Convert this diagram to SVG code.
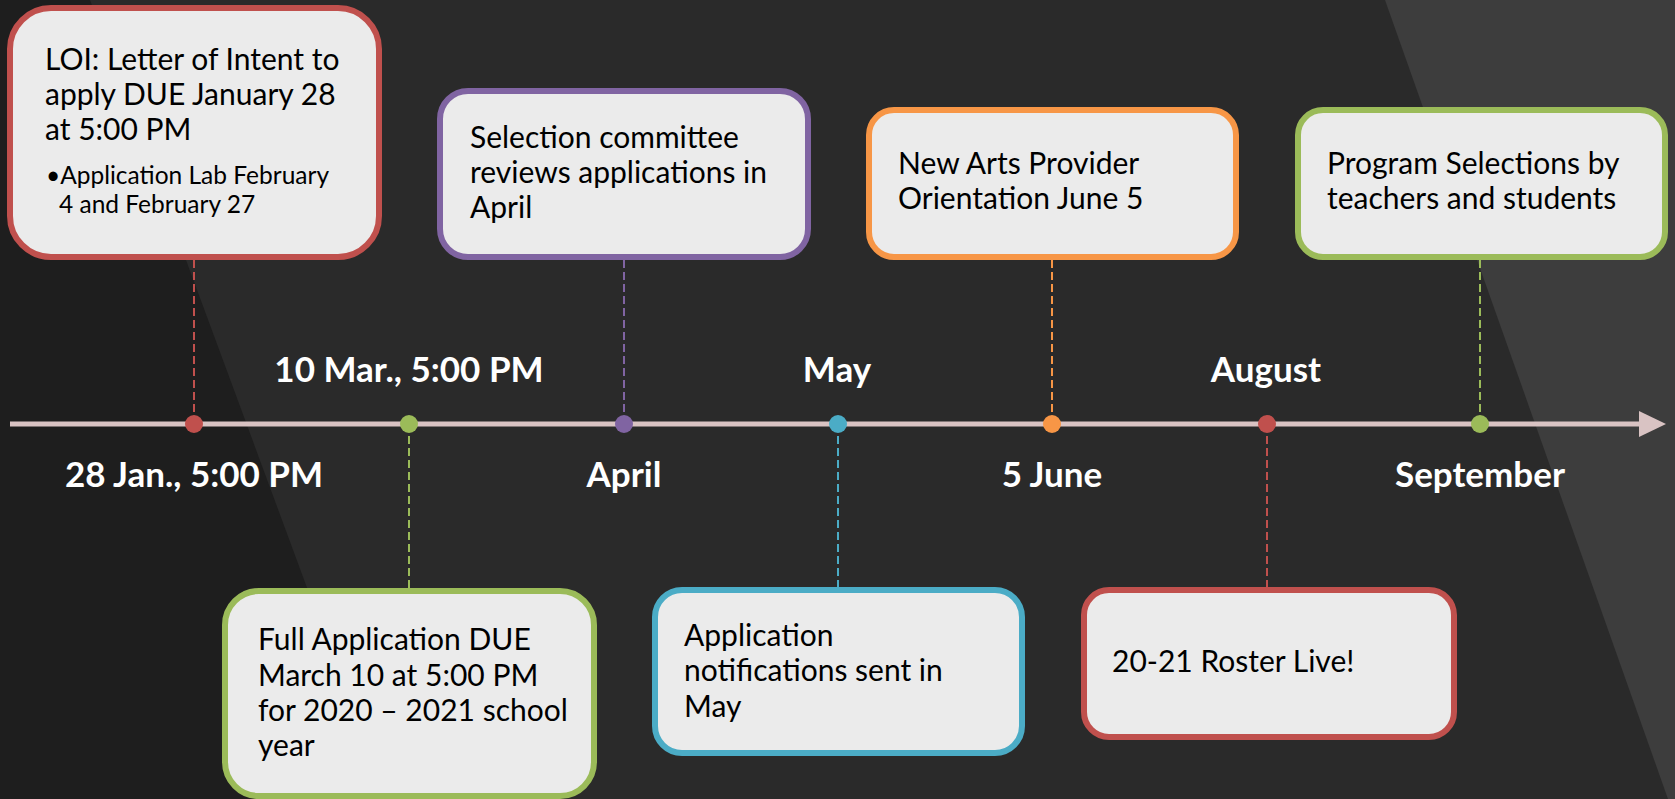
<svg xmlns="http://www.w3.org/2000/svg" width="1675" height="799" viewBox="0 0 1675 799">
<style>
.box{fill:#ebebeb;stroke-width:6}
.t{font-family:Lato,"Open Sans",sans-serif;font-size:30px;fill:#000}
.s{font-family:Lato,"Open Sans",sans-serif;font-size:24.5px;fill:#000}
.lbl{font-family:Lato,"Open Sans",sans-serif;font-size:35px;font-weight:bold;fill:#fff;text-anchor:middle}
.d{stroke-width:2;stroke-dasharray:8 4;fill:none}
.red{stroke:#c0504d}.grn{stroke:#9bbb59}.pur{stroke:#8064a2}.blu{stroke:#4bacc6}.org{stroke:#f79646}
</style>
<rect x="0" y="0" width="1675" height="799" fill="#2a2a2a"/>
<polygon points="0,0 90,0 385,799 0,799" fill="#1e1e1e"/>
<polygon points="1385,0 1675,0 1675,799 1668,799" fill="#3d3d3d"/>

<g id="connectors">
<line class="d red" x1="194" y1="260" x2="194" y2="424"/>
<line class="d grn" x1="409" y1="424" x2="409" y2="588"/>
<line class="d pur" x1="624" y1="260" x2="624" y2="424"/>
<line class="d blu" x1="838" y1="424" x2="838" y2="587"/>
<line class="d org" x1="1052" y1="260" x2="1052" y2="424"/>
<line class="d red" x1="1267" y1="424" x2="1267" y2="587"/>
<line class="d grn" x1="1480" y1="260" x2="1480" y2="424"/>
</g>

<g id="timeline">
<line x1="10" y1="424" x2="1640" y2="424" stroke="#d9c3c3" stroke-width="5"/>
<polygon points="1639,411 1666,424 1639,437" fill="#d9c3c3"/>
<circle cx="194" cy="424" r="9" fill="#c0504d"/>
<circle cx="409" cy="424" r="9" fill="#9bbb59"/>
<circle cx="624" cy="424" r="9" fill="#8064a2"/>
<circle cx="838" cy="424" r="9" fill="#4bacc6"/>
<circle cx="1052" cy="424" r="9" fill="#f79646"/>
<circle cx="1267" cy="424" r="9" fill="#c0504d"/>
<circle cx="1480" cy="424" r="9" fill="#9bbb59"/>
<text class="lbl" x="194" y="487">28 Jan., 5:00 PM</text>
<text class="lbl" x="409" y="382">10 Mar., 5:00 PM</text>
<text class="lbl" x="624" y="487">April</text>
<text class="lbl" x="837" y="382">May</text>
<text class="lbl" x="1052" y="487">5 June</text>
<text class="lbl" x="1266" y="382">August</text>
<text class="lbl" x="1480" y="487">September</text>
</g>

<g id="node-loi">
<rect class="box red" x="10" y="8" width="369" height="249" rx="41"/>
<text class="t" x="45" y="70">LOI: Letter of Intent to</text>
<text class="t" x="45" y="105">apply DUE January 28</text>
<text class="t" x="45" y="140">at 5:00 PM</text>
<text class="s" x="46" y="184">•Application Lab February</text>
<text class="s" x="59" y="213">4 and February 27</text>
</g>

<g id="node-selection">
<rect class="box pur" x="440" y="91" width="368" height="166" rx="28"/>
<text class="t" x="470" y="148">Selection committee</text>
<text class="t" x="470" y="183">reviews applications in</text>
<text class="t" x="470" y="218">April</text>
</g>

<g id="node-orientation">
<rect class="box org" x="869" y="110" width="367" height="147" rx="25"/>
<text class="t" x="898" y="174">New Arts Provider</text>
<text class="t" x="898" y="209">Orientation June 5</text>
</g>

<g id="node-program">
<rect class="box grn" x="1298" y="110" width="367" height="147" rx="25"/>
<text class="t" x="1327" y="174">Program Selections by</text>
<text class="t" x="1327" y="209">teachers and students</text>
</g>

<g id="node-full">
<rect class="box grn" x="225" y="591" width="369" height="205" rx="34"/>
<text class="t" x="258" y="650">Full Application DUE</text>
<text class="t" x="258" y="686">March 10 at 5:00 PM</text>
<text class="t" x="258" y="721">for 2020 – 2021 school</text>
<text class="t" x="258" y="756">year</text>
</g>

<g id="node-notifications">
<rect class="box blu" x="655" y="590" width="367" height="163" rx="27"/>
<text class="t" x="684" y="646">Application</text>
<text class="t" x="684" y="681">notifications sent in</text>
<text class="t" x="684" y="717">May</text>
</g>

<g id="node-roster">
<rect class="box red" x="1084" y="590" width="370" height="147" rx="25"/>
<text class="t" x="1112" y="672">20-21 Roster Live!</text>
</g>
</svg>
